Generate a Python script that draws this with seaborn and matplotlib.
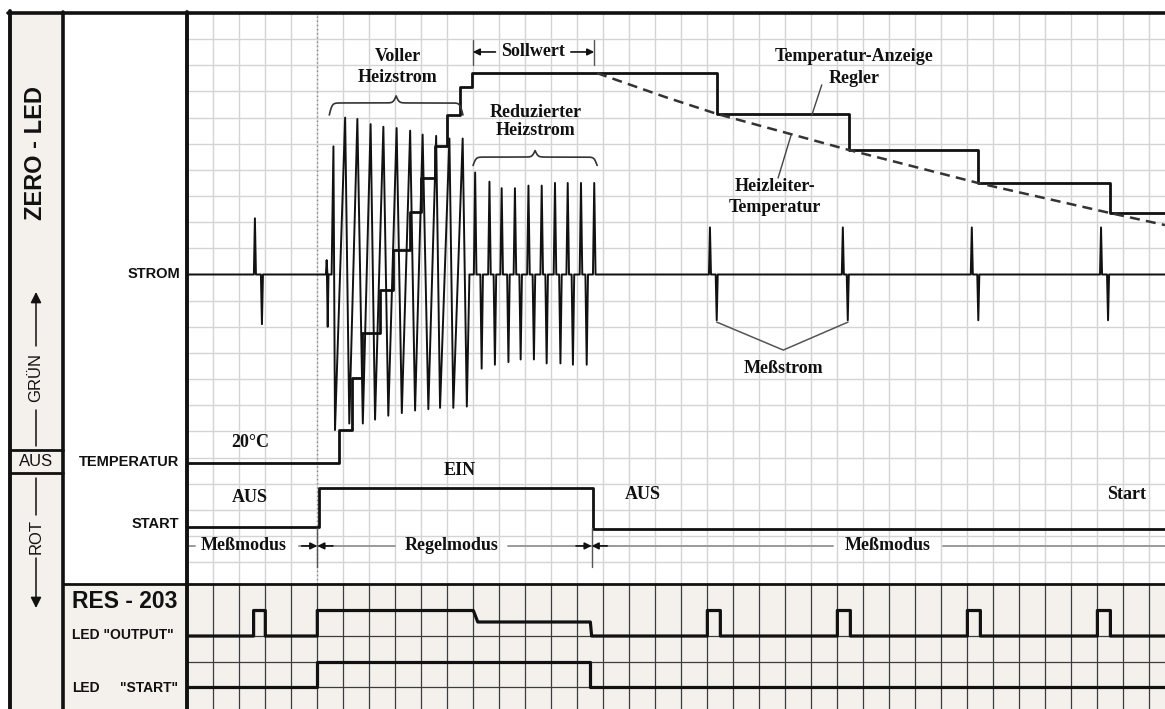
import numpy as np
import pandas as pd
import matplotlib
matplotlib.use("Agg")
import matplotlib.pyplot as plt
import seaborn as sns

sns.set_style("white")
plt.rcParams["font.family"] = ["Liberation Sans", "DejaVu Sans"]

# time in oscilloscope divisions (1 div = one grid square)
t_end = 37.6

# STROM trace
strom_base = 11.0
meas_up_t = [2.60, 20.10, 25.21, 30.17, 35.14]
meas_up_v = [13.15, 12.80, 12.80, 12.80, 12.80]
meas_dn_t = [2.87, 20.36, 25.40, 30.42, 35.41]
meas_dn_v = [9.10, 9.25, 9.25, 9.25, 9.25]
kick_t = [5.36, 5.40]
kick_v = [11.55, 9.00]
full_top_t = [5.62, 6.07, 6.54, 7.05, 7.54, 8.05, 8.57, 9.05, 9.57, 10.08, 10.59]
full_top_v = [15.9, 17.0, 16.95, 16.75, 16.65, 16.6, 16.5, 16.35, 16.3, 16.2, 16.2]
full_bot_t = [5.68, 6.23, 6.75, 7.22, 7.73, 8.25, 8.76, 9.27, 9.72, 10.23, 10.75]
full_bot_v = [5.05, 5.3, 5.3, 5.45, 5.6, 5.7, 5.8, 5.85, 5.9, 5.9, 5.95]
red_top_t = [11.07, 11.62, 12.09, 12.60, 13.12, 13.63, 14.14, 14.63, 15.14, 15.65]
red_top_v = [14.9, 14.55, 14.3, 14.3, 14.4, 14.4, 14.5, 14.5, 14.5, 14.5]
red_bot_t = [11.32, 11.83, 12.35, 12.82, 13.33, 13.82, 14.35, 14.83, 15.36]
red_bot_v = [7.4, 7.55, 7.65, 7.75, 7.75, 7.6, 7.6, 7.55, 7.55]

# TEMPERATUR (controller display, staircase)
temp_t = [0, 5.83, 6.33, 6.72, 7.41, 7.91, 8.57, 8.99, 9.53, 9.99, 10.49, 10.95,
          20.37, 25.45, 30.41, 35.49, 37.6]
temp_v = [3.78, 5.05, 7.04, 8.76, 10.41, 11.94, 13.40, 14.69, 15.91, 17.10, 18.17, 18.7,
          17.14, 15.76, 14.50, 13.35, 13.35]

# Heizleiter-Temperatur (dashed)
wire_t = [15.76, 18.37, 20.37, 25.45, 30.41, 35.49, 37.6]
wire_v = [18.7, 17.79, 17.14, 15.76, 14.50, 13.35, 12.89]

# START signal
start_t = [0, 5.05, 15.6, 37.6]
start_v = [1.34, 2.82, 1.26, 1.26]

# RES-203 LEDs
led_out_t = [0, 2.55, 2.55, 3.0, 3.0, 5.0, 5.0, 11.0, 11.17, 15.5, 15.55,
             20.0, 20.0, 20.5, 20.5, 25.0, 25.0, 25.5, 25.5,
             30.0, 30.0, 30.5, 30.5, 35.0, 35.0, 35.5, 35.5, 37.6]
led_out_v = [2, 2, 3, 3, 2, 2, 3, 3, 2.55, 2.55, 2,
             2, 3, 3, 2, 2, 3, 3, 2,
             2, 3, 3, 2, 2, 3, 3, 2, 2]
led_start_t = [0, 5.0, 15.5, 37.6]
led_start_v = [0, 1, 0, 0]


def spike(t, v, w=0.04):
    return [(t - w, strom_base), (t, v), (t + w, strom_base)]


pts = [(0, strom_base)]
pts += spike(meas_up_t[0], meas_up_v[0]) + spike(meas_dn_t[0], meas_dn_v[0])
pts += spike(kick_t[0], kick_v[0], 0.03) + spike(kick_t[1], kick_v[1], 0.03)
pts.append((5.55, strom_base))
for tt, tv, bt, bv in zip(full_top_t, full_top_v, full_bot_t, full_bot_v):
    pts += [(tt, tv), (bt, bv)]
pts.append((10.85, strom_base))
for i in range(len(red_top_t)):
    pts += spike(red_top_t[i], red_top_v[i], 0.05)
    if i < len(red_bot_t):
        pts += spike(red_bot_t[i], red_bot_v[i], 0.05)
for k in range(1, len(meas_up_t)):
    pts += spike(meas_up_t[k], meas_up_v[k]) + spike(meas_dn_t[k], meas_dn_v[k])
pts.append((t_end, strom_base))
strom = pd.DataFrame(pts, columns=["t", "v"])

W, H = 1165, 709
fig = plt.figure(figsize=(W / 100, H / 100), dpi=100)
beige = "#f4f1ed"
ink = "#111111"

bg = fig.add_axes([0, 0, 1, 1], zorder=0)
bg.set_xlim(0, W)
bg.set_ylim(H, 0)
bg.axis("off")
bg.add_patch(plt.Rectangle((9, 12), 54, H - 12, color=beige, lw=0))
bg.add_patch(plt.Rectangle((63, 584), W - 63, H - 584, color=beige, lw=0))

x0 = 187.3
top = fig.add_axes([x0 / W, (H - 584) / H, (W - x0) / W, (584 - 13) / H], zorder=1)
bot = fig.add_axes([x0 / W, 0, (W - x0) / W, (H - 584) / H], zorder=1)

# top panel
top.set_xlim(0, t_end)
top.set_ylim(-0.836, 21)
top.set_facecolor("white")
top.set_xticks(range(1, 38))
top.set_yticks(range(0, 21))
top.tick_params(length=0, labelbottom=False, labelleft=False)
top.grid(True, color="#d4d4d4", lw=1.0)
top.set_axisbelow(True)
for s in top.spines.values():
    s.set_visible(False)
top.axvline(5.0, color="#888888", lw=1.0, ls=(0, (1, 2)), zorder=1)

sns.lineplot(data=strom, x="t", y="v", sort=False, estimator=None, color=ink, lw=1.4, ax=top)
sns.lineplot(x=temp_t, y=temp_v, sort=False, estimator=None, color=ink, lw=2.0,
             drawstyle="steps-post", ax=top)
sns.lineplot(x=wire_t, y=wire_v, sort=False, estimator=None, color="#333333", lw=1.8,
             linestyle=(0, (4, 2.5)), ax=top)
sns.lineplot(x=start_t, y=start_v, sort=False, estimator=None, color=ink, lw=2.0,
             drawstyle="steps-post", ax=top)
top.set(xlabel=None, ylabel=None)

serif = dict(fontfamily=["Liberation Serif", "DejaVu Serif"], fontweight="bold",
             fontsize=13, ha="center", va="center", color=ink)


def brace(ax, ta, tb, y, drop, rise, beta=18.0):
    tm = (ta + tb) / 2
    xh = np.linspace(ta, tm, 150)
    yh = 1 / (1 + np.exp(-beta * (xh - ta))) + 1 / (1 + np.exp(-beta * (xh - tm)))
    xs = np.concatenate([xh, 2 * tm - xh[-2::-1]])
    ys = np.concatenate([yh, yh[-2::-1]])
    lv = np.where(ys < 1, y - (1 - ys) * 2 * drop, y + (ys - 1) * 2 * rise)
    ax.plot(xs, lv, color="#333333", lw=1.2)


brace(top, 5.46, 10.6, 17.56, 0.46, 0.27)
brace(top, 10.99, 15.76, 15.49, 0.32, 0.25)

top.text(8.10, 19.32, "Voller", **serif)
top.text(8.10, 18.55, "Heizstrom", **serif)
top.text(13.38, 17.21, "Reduzierter", **serif)
top.text(13.38, 16.49, "Heizstrom", **serif)
top.text(13.30, 19.51, "Sollwert", **serif)
top.text(25.64, 19.32, "Temperatur-Anzeige", **serif)
top.text(25.64, 18.48, "Regler", **serif)
top.text(22.60, 14.35, "Heizleiter-", **serif)
top.text(22.60, 13.58, "Temperatur", **serif)
top.text(22.92, 7.40, "Meßstrom", **serif)
top.text(2.41, 4.56, "20°C", **serif)
top.text(10.49, 3.52, "EIN", **serif)
top.text(2.41, 2.49, "AUS", **serif)
top.text(17.53, 2.57, "AUS", **serif)
top.text(36.14, 2.57, "Start", **serif)
top.text(2.17, 0.62, "Meßmodus", **serif)
top.text(10.17, 0.62, "Regelmodus", **serif)
top.text(26.94, 0.62, "Meßmodus", **serif)

# leader lines
top.plot([24.40, 24.02], [18.25, 17.10], color="#444444", lw=1.0)
top.plot([22.72, 23.22], [14.69, 16.33], color="#444444", lw=1.0)
top.plot([20.36, 22.92, 25.41], [9.18, 8.11, 9.18], color="#555555", lw=1.1)

# Sollwert dimension
arr = dict(arrowstyle="-|>", color=ink, lw=1.2, shrinkA=0, shrinkB=0, mutation_scale=10)
for tb in (10.98, 15.65):
    top.plot([tb, tb], [19.0, 19.97], color="#555555", lw=1.0)
top.annotate("", xy=(10.98, 19.51), xytext=(11.85, 19.51), arrowprops=arr)
top.annotate("", xy=(15.65, 19.51), xytext=(14.75, 19.51), arrowprops=arr)

# mode dimension line
dim_y = 0.62
grey = "#9a9a9a"
for a, b in [(0, 0.3), (4.3, 5.0), (5.0, 7.99), (12.33, 15.55), (15.55, 24.83), (29.06, t_end)]:
    top.plot([a, b], [dim_y, dim_y], color=grey, lw=1.4)
for b in (5.0, 15.55):
    top.plot([b, b], [1.3, -0.2], color="#555555", lw=1.0)
    top.annotate("", xy=(b, dim_y), xytext=(b - 0.6, dim_y), arrowprops=arr)
    top.annotate("", xy=(b, dim_y), xytext=(b + 0.6, dim_y), arrowprops=arr)

# bottom panel
bot.set_xlim(0, t_end)
bot.set_ylim(-0.863, 4.04)
bot.set_facecolor(beige)
bot.set_xticks(range(1, 38))
bot.set_yticks([0, 1, 2])
bot.tick_params(length=0, labelbottom=False, labelleft=False)
bot.grid(True, color="#3c3c3c", lw=0.9)
bot.set_axisbelow(True)
for s in bot.spines.values():
    s.set_visible(False)
sns.lineplot(x=led_out_t, y=led_out_v, sort=False, estimator=None, color=ink, lw=2.3, ax=bot)
sns.lineplot(x=led_start_t, y=led_start_v, sort=False, estimator=None, color=ink, lw=2.3,
             drawstyle="steps-post", ax=bot)
bot.set(xlabel=None, ylabel=None)

# frame and left labels
ov = fig.add_axes([0, 0, 1, 1], zorder=5)
ov.set_xlim(0, W)
ov.set_ylim(H, 0)
ov.axis("off")
ov.patch.set_alpha(0)
ov.plot([9.5, 9.5], [11, H], color=ink, lw=2.8)
ov.plot([8, W], [12.5, 12.5], color=ink, lw=2.6)
ov.plot([63, 63], [12, H], color=ink, lw=2.6)
ov.plot([187.3, 187.3], [12, H], color=ink, lw=2.8)
ov.plot([63, W], [584, 584], color=ink, lw=2.0)
ov.plot([9.5, 63], [450, 450], color=ink, lw=2.0)
ov.plot([9.5, 63], [472.5, 472.5], color=ink, lw=2.0)

ov.text(36, 153, "ZERO - LED", rotation=90, fontsize=17, fontweight="bold",
        ha="center", va="center", color=ink)
small_arr = dict(arrowstyle="-|>", color=ink, lw=1.1, shrinkA=0, shrinkB=0, mutation_scale=16)
ov.annotate("", xy=(36, 292), xytext=(36, 346), arrowprops=small_arr)
ov.text(36, 378, "GRÜN", rotation=90, fontsize=12, ha="center", va="center", color=ink)
ov.plot([36, 36], [410, 446], color=ink, lw=1.1)
ov.text(36, 462, "AUS", fontsize=12, ha="center", va="center", color=ink)
ov.plot([36, 36], [478, 515], color=ink, lw=1.1)
ov.text(36, 537, "ROT", rotation=90, fontsize=12, ha="center", va="center", color=ink)
ov.annotate("", xy=(36, 608), xytext=(36, 558), arrowprops=small_arr)

lab = dict(fontsize=10.5, fontweight="bold", ha="right", va="center", color=ink)
ov.text(180, 273.5, "STROM", **lab)
ov.text(179, 462, "TEMPERATUR", **lab)
ov.text(179, 524, "START", **lab)
ov.text(72, 601, "RES - 203", fontsize=16.5, fontweight="bold", ha="left", va="center", color=ink)
ov.text(72, 635, 'LED "OUTPUT"', fontsize=10, fontweight="bold", ha="left", va="center", color=ink)
ov.text(72, 688, "LED", fontsize=10, fontweight="bold", ha="left", va="center", color=ink)
ov.text(178, 688, '"START"', fontsize=10, fontweight="bold", ha="right", va="center", color=ink)

fig.savefig("out.png", dpi=100)
